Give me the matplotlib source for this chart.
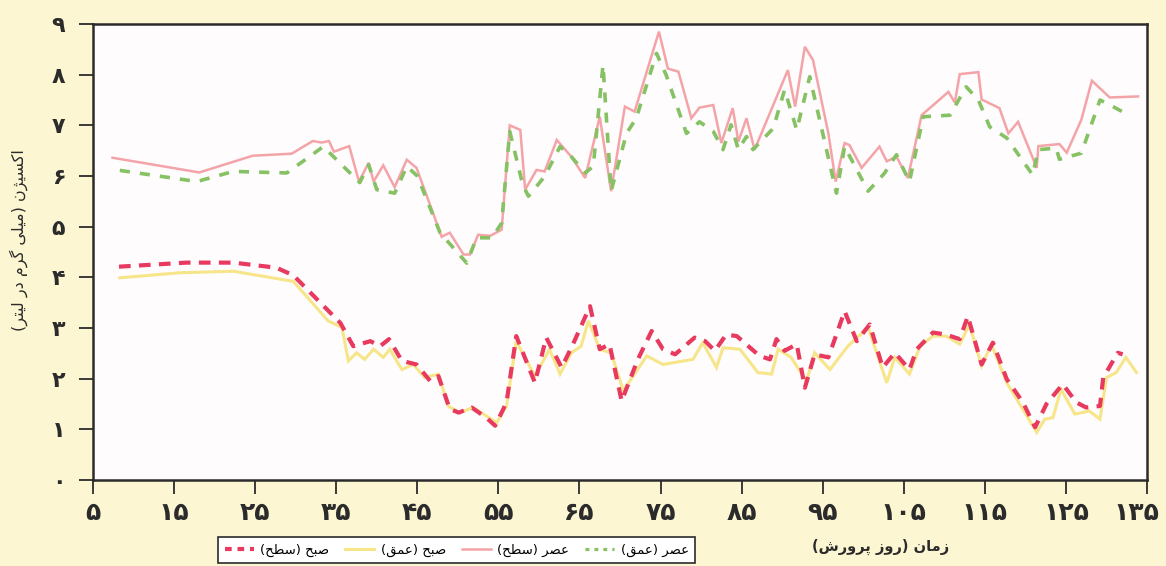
import matplotlib
matplotlib.use("Agg")
import matplotlib.pyplot as plt
import matplotlib.transforms as mtransforms
from matplotlib.lines import Line2D

# ---------------------------------------------------------------- data
# Afternoon, surface (عصر سطح)
pm_surf_day = [7.4, 18.1, 24.7, 29.5, 32.1, 33.2, 34.1, 34.7, 36.6, 37.8, 39.0, 39.6,
               40.8, 42.2, 43.7, 44.9, 48.0, 49.0, 50.7, 51.5, 52.5, 54.0, 55.4, 56.4,
               57.7, 58.3, 59.7, 60.7, 62.2, 64.0, 65.7, 67.5, 68.9, 70.6, 71.8, 74.8,
               75.9, 77.2, 78.8, 79.8, 81.5, 82.5, 83.9, 84.6, 85.6, 86.6, 90.7, 91.6,
               92.8, 93.8, 95.7, 96.6, 97.7, 98.3, 99.8, 102.0, 102.9, 104.1, 105.5,
               107.2, 110.5, 111.3, 111.9, 114.2, 114.6, 116.8, 117.9, 119.1, 121.4,
               121.6, 124.2, 125.1, 126.9, 128.2, 130.4, 133.9]
pm_surf_val = [6.36, 6.07, 6.40, 6.44, 6.69, 6.66, 6.69, 6.48, 6.59, 5.89, 6.26, 5.89,
               6.21, 5.78, 6.32, 6.16, 4.80, 4.88, 4.45, 4.45, 4.84, 4.82, 4.94, 7.00,
               6.91, 5.73, 6.12, 6.09, 6.71, 6.38, 5.96, 7.17, 5.70, 7.37, 7.27, 8.85,
               8.12, 8.06, 7.14, 7.35, 7.40, 6.65, 7.34, 6.68, 7.14, 6.52, 8.09, 7.37,
               8.55, 8.29, 6.84, 5.89, 6.65, 6.61, 6.16, 6.58, 6.29, 6.38, 5.96,
               7.20, 7.66, 7.45, 8.01, 8.05, 7.51, 7.34, 6.84, 7.07, 6.16,
               6.59, 6.63, 6.46, 7.11, 7.88, 7.55, 7.57]

# Afternoon, depth (عصر عمق)
pm_deep_day = [8.3, 17.8, 22.3, 28.9, 33.4, 37.9, 39.0, 40.0, 42.2, 43.7, 45.0, 47.8,
               51.1, 52.3, 54.2, 55.4, 56.4, 58.0, 58.7, 60.7, 62.6, 64.0, 65.7, 66.7,
               67.9, 68.9, 70.8, 72.0, 74.5, 75.7, 78.2, 79.8, 81.5, 82.7, 83.7, 84.6,
               85.6, 86.4, 88.9, 90.3, 91.8, 93.4, 96.7, 97.7, 100.6, 102.6, 104.1,
               105.7, 107.4, 110.7, 112.7, 114.2, 115.6, 117.7, 120.9, 121.6, 123.8,
               124.2, 126.9, 129.2, 130.8, 132.3]
pm_deep_val = [6.11, 5.89, 6.09, 6.06, 6.58, 5.87, 6.22, 5.73, 5.66, 6.19, 6.00, 4.88,
               4.28, 4.78, 4.78, 5.07, 6.88, 5.83, 5.60, 5.99, 6.58, 6.38, 6.06, 6.19,
               8.19, 5.70, 6.84, 7.14, 8.42, 7.99, 6.84, 7.07, 6.88, 6.52, 7.01, 6.52,
               6.78, 6.52, 6.94, 7.70, 6.91, 7.96, 5.66, 6.58, 5.70, 6.05, 6.42,
               5.89, 7.17, 7.20, 7.76, 7.50, 6.97, 6.75, 6.02, 6.52, 6.55,
               6.33, 6.45, 7.50, 7.37, 7.24]

# Morning, surface (صبح سطح)
am_surf_day = [8.2, 16.5, 22.3, 27.6, 29.7, 35.5, 37.1, 39.2, 40.4, 41.5, 43.1, 44.9,
               46.6, 47.6, 49.0, 50.1, 51.7, 53.5, 54.6, 56.0, 57.2, 58.5, 59.5, 60.9,
               62.8, 64.2, 66.3, 67.5, 68.7, 70.2, 72.2, 73.9, 75.3, 76.8, 79.2, 80.5,
               81.7, 83.1, 84.4, 87.2, 88.5, 89.3, 90.3, 91.8, 92.8, 94.0, 95.7, 97.7,
               99.2, 100.8, 102.4, 103.9, 105.7, 106.6, 108.6, 110.2, 111.9, 112.9,
               114.6, 116.0, 117.7, 119.7, 121.2, 122.6, 124.6, 126.3, 127.5, 129.2,
               129.6, 131.4, 132.0]
am_surf_val = [4.21, 4.29, 4.29, 4.19, 4.04, 3.10, 2.64, 2.74, 2.64, 2.78, 2.35, 2.28,
               1.95, 2.05, 1.40, 1.33, 1.43, 1.23, 1.07, 1.53, 2.84, 2.32, 1.92, 2.81,
               2.22, 2.68, 3.43, 2.58, 2.68, 1.56, 2.38, 2.94, 2.58, 2.48, 2.81, 2.74,
               2.55, 2.87, 2.84, 2.45, 2.38, 2.78, 2.55, 2.68, 1.82, 2.48, 2.42, 3.33,
               2.74, 3.07, 2.22, 2.51, 2.18, 2.58, 2.91, 2.87, 2.78, 3.23,
               2.28, 2.71, 1.99, 1.53, 1.04, 1.50, 1.89, 1.53, 1.43, 1.46,
               2.02, 2.51, 2.48]

# Morning, depth (صبح عمق)
am_deep_day = [8.3, 15.7, 22.3, 29.7, 34.0, 35.7, 36.5, 37.5, 38.5, 39.6, 40.8, 41.6,
               43.1, 44.5, 45.9, 47.6, 48.8, 50.2, 51.9, 54.8, 56.0, 57.2, 59.5, 61.3,
               62.6, 64.0, 65.2, 66.1, 67.5, 68.9, 70.4, 73.3, 75.3, 79.0, 80.2, 81.9,
               82.7, 84.8, 87.0, 88.7, 89.5, 91.1, 93.0, 94.0, 95.9, 98.1, 100.6, 102.9,
               103.9, 105.7, 107.0, 108.6, 110.2, 111.9, 113.1, 114.6, 115.8, 117.7,
               121.4, 122.4, 123.4, 124.4, 126.1, 127.9, 129.2, 130.0, 131.2, 132.4,
               133.7]
am_deep_val = [3.99, 4.09, 4.12, 3.92, 3.14, 3.01, 2.35, 2.51, 2.38, 2.58, 2.42, 2.58,
               2.18, 2.28, 2.02, 2.09, 1.46, 1.33, 1.43, 1.13, 1.46, 2.74, 2.05, 2.58,
               2.09, 2.51, 2.64, 3.14, 2.58, 2.51, 1.76, 2.45, 2.28, 2.38, 2.71, 2.22,
               2.61, 2.58, 2.12, 2.09, 2.58, 2.42, 1.95, 2.51, 2.18, 2.64, 3.01, 1.92,
               2.42, 2.09, 2.64, 2.84, 2.84, 2.68, 3.07, 2.25, 2.68, 1.92,
               0.94, 1.20, 1.23, 1.79, 1.30, 1.36, 1.20, 2.02, 2.12, 2.42,
               2.12]

x_ticks = list(range(5, 136, 10))
y_ticks = list(range(0, 10))

legend_labels = ["صبح (سطح)", "صبح (عمق)", "عصر (سطح)", "عصر (عمق)"]
x_title = "زمان (روز پرورش)"
y_title = "اکسیژن (میلی گرم در لیتر)"

# ------------------------------------------------- Persian text shaping
# presentation forms: (isolated, final, initial, medial); two-form letters
# only join to the preceding letter.
FORMS = {
    "\u0627": ("\uFE8D", "\uFE8E"),
    "\u0628": ("\uFE8F", "\uFE90", "\uFE91", "\uFE92"),
    "\u067E": ("\uFB56", "\uFB57", "\uFB58", "\uFB59"),
    "\u062A": ("\uFE95", "\uFE96", "\uFE97", "\uFE98"),
    "\u062D": ("\uFEA1", "\uFEA2", "\uFEA3", "\uFEA4"),
    "\u062F": ("\uFEA9", "\uFEAA"),
    "\u0631": ("\uFEAD", "\uFEAE"),
    "\u0632": ("\uFEAF", "\uFEB0"),
    "\u0698": ("\uFB8A", "\uFB8B"),
    "\u0633": ("\uFEB1", "\uFEB2", "\uFEB3", "\uFEB4"),
    "\u0634": ("\uFEB5", "\uFEB6", "\uFEB7", "\uFEB8"),
    "\u0635": ("\uFEB9", "\uFEBA", "\uFEBB", "\uFEBC"),
    "\u0637": ("\uFEC1", "\uFEC2", "\uFEC3", "\uFEC4"),
    "\u0639": ("\uFEC9", "\uFECA", "\uFECB", "\uFECC"),
    "\u0642": ("\uFED5", "\uFED6", "\uFED7", "\uFED8"),
    "\u06A9": ("\uFB8E", "\uFB8F", "\uFB90", "\uFB91"),
    "\u06AF": ("\uFB92", "\uFB93", "\uFB94", "\uFB95"),
    "\u0644": ("\uFEDD", "\uFEDE", "\uFEDF", "\uFEE0"),
    "\u0645": ("\uFEE1", "\uFEE2", "\uFEE3", "\uFEE4"),
    "\u0646": ("\uFEE5", "\uFEE6", "\uFEE7", "\uFEE8"),
    "\u0648": ("\uFEED", "\uFEEE"),
    "\u06CC": ("\uFBFC", "\uFBFD", "\uFBFE", "\uFBFF"),
}
MIRROR = {"(": ")", ")": "("}


def rtl(text):
    out = []
    n = len(text)
    for i, ch in enumerate(text):
        forms = FORMS.get(ch)
        if forms is None:
            out.append(MIRROR.get(ch, ch))
            continue
        prev = text[i - 1] if i > 0 else ""
        nxt = text[i + 1] if i < n - 1 else ""
        join_prev = prev in FORMS and len(FORMS[prev]) == 4
        join_next = len(forms) == 4 and nxt in FORMS
        if join_prev and join_next:
            out.append(forms[3])
        elif join_prev:
            out.append(forms[1])
        elif join_next:
            out.append(forms[2])
        else:
            out.append(forms[0])
    return "".join(reversed(out))


PERSIAN_DIGITS = str.maketrans("0123456789", "۰۱۲۳۴۵۶۷۸۹")


def fa_num(v):
    return str(v).translate(PERSIAN_DIGITS)


# ---------------------------------------------------------------- figure
plt.rcParams["font.family"] = ["DejaVu Sans"]

BG = "#fcf6d2"
INK = "#2b2b2b"

fig = plt.figure(figsize=(11.66, 5.66), dpi=100, facecolor=BG)
ax = fig.add_axes([0.0798, 0.152, 0.9039, 0.8056])
ax.set_facecolor("#fefcfc")

c_am_deep = "#f7e58a"
c_am_surf = "#e8395f"
c_pm_surf = "#f4a4a8"
c_pm_deep = "#86c164"

ax.plot(am_deep_day, am_deep_val, color=c_am_deep, lw=2.2, solid_joinstyle="miter", zorder=2)
ax.plot(am_surf_day, am_surf_val, color=c_am_surf, lw=3.0, dashes=(2.8, 2.0), zorder=3)
ax.plot(pm_surf_day, pm_surf_val, color=c_pm_surf, lw=1.8, solid_joinstyle="miter", zorder=2)
ax.plot(pm_deep_day, pm_deep_val, color=c_pm_deep, lw=2.6, dashes=(2.8, 2.8), zorder=3)

ax.set_xlim(5, 135)
ax.set_ylim(0, 9)
ax.set_xticks(x_ticks)
ax.set_xticklabels([fa_num(t) for t in x_ticks])
ax.set_yticks(y_ticks)
ax.set_yticklabels([fa_num(t) for t in y_ticks])

for sp in ax.spines.values():
    sp.set_color(INK)
    sp.set_linewidth(1.8)

ax.tick_params(axis="both", direction="out", length=10, width=1.3, color=INK,
               labelcolor=INK)
ax.tick_params(axis="x", pad=5, labelsize=18)
ax.tick_params(axis="y", pad=10, labelsize=16)
for lab in ax.get_xticklabels() + ax.get_yticklabels():
    lab.set_fontweight("bold")

# keep the last day label inside the figure edge
last_lab = ax.xaxis.get_major_ticks()[-1].label1
last_lab.set_transform(last_lab.get_transform()
                       + mtransforms.ScaledTranslation(-11 / 100, 0, fig.dpi_scale_trans))

ax.set_ylabel(rtl(y_title), fontsize=11.5, color=INK)
ax.yaxis.set_label_coords(-0.062, 0.525)
fig.text(0.755, 0.033, rtl(x_title), fontsize=10.5, fontweight="bold",
         color=INK, ha="center", va="center")

handles = [
    Line2D([], [], color=c_am_surf, lw=3.0, dashes=(1.6, 1.4)),
    Line2D([], [], color=c_am_deep, lw=2.2),
    Line2D([], [], color=c_pm_surf, lw=1.8),
    Line2D([], [], color=c_pm_deep, lw=2.3, dashes=(1.2, 1.6)),
]
leg = fig.legend(handles, [rtl(t) for t in legend_labels], ncol=4,
                 loc="upper left", bbox_to_anchor=(0.187, 0.0512), borderaxespad=0,
                 frameon=True, fancybox=False, edgecolor=INK, facecolor="white",
                 framealpha=1.0, fontsize=9.5, handlelength=2.2, columnspacing=1.2,
                 borderpad=0.5, handletextpad=0.5)
leg.get_frame().set_linewidth(1.2)

fig.savefig("out.png", dpi=100, facecolor=BG)
